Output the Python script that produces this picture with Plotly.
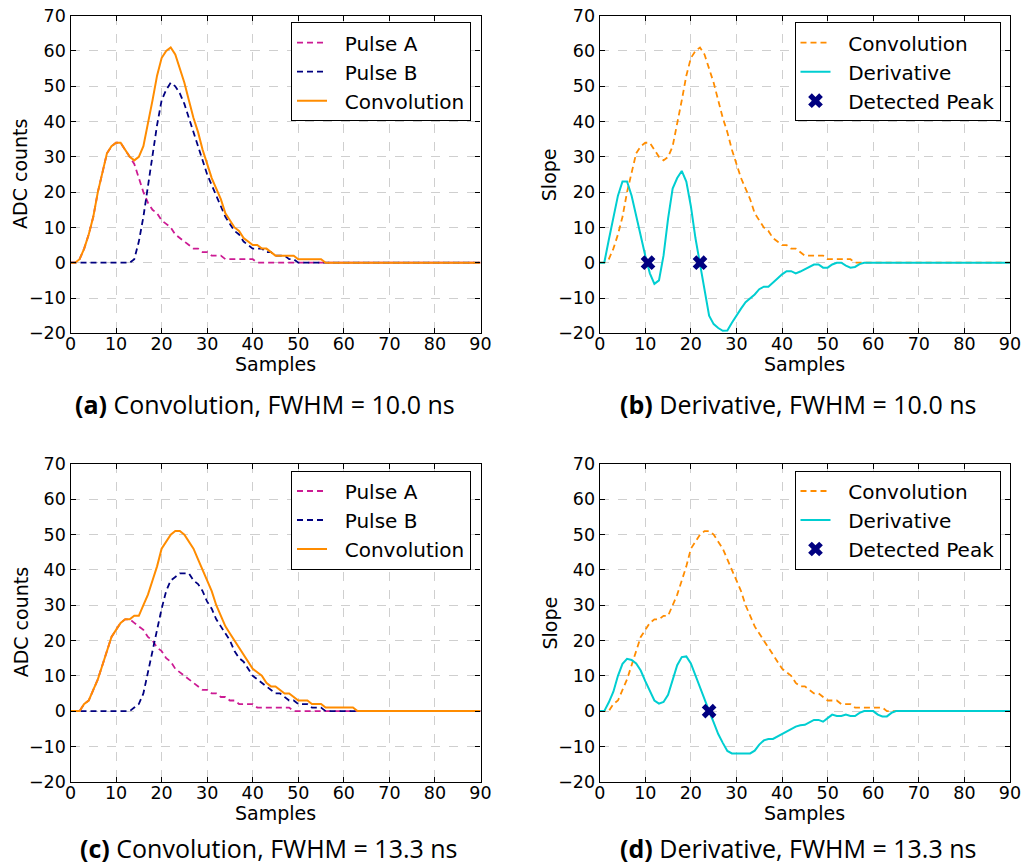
import plotly.graph_objects as go

samples = list(range(91))

# ---- Panel (a)/(b): FWHM = 10.0 ns ----
pulse_a_10 = [0, 0, 1, 4, 8, 13, 20, 26, 31, 33,
              34, 34, 32, 30, 28, 24, 20, 17, 15, 14,
              12, 11, 10, 8, 7, 6, 5, 4, 4, 3,
              3, 2, 2, 2, 1, 1, 1, 1, 1, 1,
              1, 0, 0, 0, 0, 0, 0, 0, 0, 0,
              0, 0, 0, 0, 0, 0, 0, 0, 0, 0,
              0, 0, 0, 0, 0, 0, 0, 0, 0, 0,
              0, 0, 0, 0, 0, 0, 0, 0, 0, 0,
              0, 0, 0, 0, 0, 0, 0, 0, 0, 0, 0]
pulse_b_10 = [0, 0, 0, 0, 0, 0, 0, 0, 0, 0,
              0, 0, 0, 0, 1, 6, 13, 22, 31, 39,
              46, 49, 51, 50, 48, 45, 41, 37, 33, 29,
              25, 22, 19, 16, 13, 11, 9, 8, 6, 5,
              4, 4, 4, 3, 3, 2, 2, 2, 1, 1,
              0, 0, 0, 0, 0, 0, 0, 0, 0, 0,
              0, 0, 0, 0, 0, 0, 0, 0, 0, 0,
              0, 0, 0, 0, 0, 0, 0, 0, 0, 0,
              0, 0, 0, 0, 0, 0, 0, 0, 0, 0, 0]
conv_10 = [0, 0, 1, 4, 8, 13, 20, 26, 31, 33,
           34, 34, 32, 30, 29, 30, 33, 39, 46, 53,
           58, 60, 61, 59, 55, 51, 46, 41, 37, 32,
           28, 24, 21, 18, 14, 12, 10, 9, 7, 6,
           5, 5, 4, 4, 3, 2, 2, 2, 2, 2,
           1, 1, 1, 1, 1, 1, 0, 0, 0, 0,
           0, 0, 0, 0, 0, 0, 0, 0, 0, 0,
           0, 0, 0, 0, 0, 0, 0, 0, 0, 0,
           0, 0, 0, 0, 0, 0, 0, 0, 0, 0, 0]
deriv_10 = [0, 0, 6.5, 13, 19, 23, 23, 19, 13, 7,
            2, -3, -6, -5, 2, 12.5, 21, 24, 26, 23,
            16, 7, 0, -7, -15, -17.4, -18.5, -19.3, -19.2, -17,
            -14.8, -13, -11.2, -10, -9, -7.5, -6.8, -6.8, -5.5, -4.5,
            -3.3, -2.4, -2.4, -3, -2.5, -1.8, -1.2, -0.5, -0.5, -1.4,
            -1.4, -0.5, 0, 0, -0.8, -1.4, -1.2, -0.4, 0, 0,
            0, 0, 0, 0, 0, 0, 0, 0, 0, 0,
            0, 0, 0, 0, 0, 0, 0, 0, 0, 0,
            0, 0, 0, 0, 0, 0, 0, 0, 0, 0, 0]
peaks_x_10 = [10.6, 22.0]
peaks_y_10 = [0, 0]

# ---- Panel (c)/(d): FWHM = 13.3 ns ----
pulse_a_13 = [0, 0, 0, 2, 3, 6, 9, 13, 17, 21,
              23, 25, 26, 26, 25, 24, 23, 21, 20, 18,
              17, 15, 14, 12, 11, 10, 9, 8, 7, 6,
              6, 5, 5, 4, 4, 3, 3, 2, 2, 2,
              2, 1, 1, 1, 1, 1, 1, 1, 1, 0,
              0, 0, 0, 0, 0, 0, 0, 0, 0, 0,
              0, 0, 0, 0, 0, 0, 0, 0, 0, 0,
              0, 0, 0, 0, 0, 0, 0, 0, 0, 0,
              0, 0, 0, 0, 0, 0, 0, 0, 0, 0, 0]
pulse_b_13 = [0, 0, 0, 0, 0, 0, 0, 0, 0, 0,
              0, 0, 0, 0, 1, 2, 5, 11, 17, 23,
              29, 34, 37, 38, 39, 39, 39, 37, 36, 34,
              31, 29, 26, 24, 22, 20, 17, 15, 14, 12,
              10, 9, 8, 7, 6, 5, 5, 4, 3, 3,
              2, 2, 2, 1, 1, 1, 0, 0, 0, 0,
              0, 0, 0, 0, 0, 0, 0, 0, 0, 0,
              0, 0, 0, 0, 0, 0, 0, 0, 0, 0,
              0, 0, 0, 0, 0, 0, 0, 0, 0, 0, 0]
conv_13 = [0, 0, 0, 2, 3, 6, 9, 13, 17, 21,
           23, 25, 26, 26, 27, 27, 30, 33, 37, 41,
           46, 48, 50, 51, 51, 50, 48, 46, 43, 40,
           37, 34, 30, 27, 24, 22, 20, 18, 16, 14,
           12, 11, 10, 8, 7, 7, 6, 5, 5, 4,
           3, 3, 3, 2, 2, 2, 1, 1, 1, 1,
           1, 1, 1, 0, 0, 0, 0, 0, 0, 0,
           0, 0, 0, 0, 0, 0, 0, 0, 0, 0,
           0, 0, 0, 0, 0, 0, 0, 0, 0, 0, 0]
deriv_13 = [0, 0, 2.5, 5.5, 10, 13.4, 14.8, 14.5, 13.5, 11.5,
            8.5, 5.5, 3, 2.1, 2.6, 4.6, 8.5, 13, 15.3, 15.5,
            13.5, 10, 6.8, 3.2, 0, -3.2, -6.5, -9, -11.3, -12,
            -12, -12, -12, -12, -11.2, -9.5, -8.3, -7.9, -7.9, -7.2,
            -6.5, -6, -5.2, -4.4, -4, -3.9, -3.2, -2.5, -2.5, -3,
            -2, -1, -1.4, -1.4, -1, -1.4, -1.4, -0.5, 0, 0,
            0, -1, -1.5, -1.5, -0.5, 0, 0, 0, 0, 0,
            0, 0, 0, 0, 0, 0, 0, 0, 0, 0,
            0, 0, 0, 0, 0, 0, 0, 0, 0, 0, 0]
peaks_x_13 = [24.0]
peaks_y_13 = [0]

x_ticks = [0, 10, 20, 30, 40, 50, 60, 70, 80, 90]
y_ticks = [-20, -10, 0, 10, 20, 30, 40, 50, 60, 70]
x_title = "Samples"
y_titles = {"a": "ADC counts", "b": "Slope", "c": "ADC counts", "d": "Slope"}
captions = ["<b>(a)</b> Convolution, FWHM = 10.0 ns",
            "<b>(b)</b> Derivative, FWHM = 10.0 ns",
            "<b>(c)</b> Convolution, FWHM = 13.3 ns",
            "<b>(d)</b> Derivative, FWHM = 13.3 ns"]

MAGENTA = "#CC1A93"
NAVY = "#000080"
ORANGE = "#FF8C00"
CYAN = "#00CED1"
DASH = "6px,4px"

W, H = 1028, 867
FONT = "DejaVu Sans"
TICK_FS = 17.5
TITLE_FS = 19
LEG_FS = 20
CAP_FS = 25
NB = "\u00a0"

def px_x(p):
    return p / W

def px_y(p):
    return 1 - p / H

fig = go.Figure()

panels = {
    "a": (70.5, 480.5, 15.7, 333.3),
    "b": (599.7, 1010.0, 15.7, 333.3),
    "c": (70.5, 480.5, 464.0, 781.7),
    "d": (599.7, 1010.0, 464.0, 781.7),
}
axis_ids = {"a": ("x", "y"), "b": ("x2", "y2"), "c": ("x3", "y3"), "d": ("x4", "y4")}
legend_ids = {"a": "legend", "b": "legend2", "c": "legend3", "d": "legend4"}
counter = [0]

def label(name):
    return NB * 2 + name

def add_line(panel, y, name, color, dash, width):
    xa, ya = axis_ids[panel]
    counter[0] += 1
    fig.add_trace(go.Scatter(x=samples, y=y, mode="lines", name=label(name),
                             line=dict(color=color, dash=dash, width=width),
                             legendgroup="g%d" % counter[0],
                             xaxis=xa, yaxis=ya, legend=legend_ids[panel]))

def add_peaks(panel, px, py):
    xa, ya = axis_ids[panel]
    counter[0] += 1
    fig.add_trace(go.Scatter(x=px, y=py, mode="markers", name=label("Detected Peak"),
                             marker=dict(symbol="x", size=13, color=NAVY,
                                         line=dict(width=0)),
                             legendgroup="g%d" % counter[0],
                             xaxis=xa, yaxis=ya, legend=legend_ids[panel]))

add_line("a", pulse_a_10, "Pulse A", MAGENTA, DASH, 1.8)
add_line("a", pulse_b_10, "Pulse B", NAVY, DASH, 1.8)
add_line("a", conv_10, "Convolution", ORANGE, "solid", 2)
add_line("b", conv_10, "Convolution", ORANGE, DASH, 1.8)
add_line("b", deriv_10, "Derivative", CYAN, "solid", 2)
add_peaks("b", peaks_x_10, peaks_y_10)

add_line("c", pulse_a_13, "Pulse A", MAGENTA, DASH, 1.8)
add_line("c", pulse_b_13, "Pulse B", NAVY, DASH, 1.8)
add_line("c", conv_13, "Convolution", ORANGE, "solid", 2)
add_line("d", conv_13, "Convolution", ORANGE, DASH, 1.8)
add_line("d", deriv_13, "Derivative", CYAN, "solid", 2)
add_peaks("d", peaks_x_13, peaks_y_13)

layout = dict(
    width=W, height=H,
    margin=dict(l=0, r=0, t=0, b=0, autoexpand=False),
    paper_bgcolor="white", plot_bgcolor="white",
    font=dict(family=FONT, size=TICK_FS, color="black"),
    showlegend=True,
)

annotations = []
for key, (l, r, t, b) in panels.items():
    xa, ya = axis_ids[key]
    xname = "xaxis" if xa == "x" else "xaxis" + xa[1:]
    yname = "yaxis" if ya == "y" else "yaxis" + ya[1:]
    common = dict(showline=True, linecolor="black", linewidth=1.2, mirror="allticks",
                  ticks="inside", ticklen=5, tickwidth=1, tickcolor="black",
                  showgrid=True, gridcolor="#cfcfcf", griddash="dash", gridwidth=1,
                  zeroline=False, automargin=False,
                  tickfont=dict(family=FONT, size=TICK_FS, color="black"))
    layout[xname] = dict(common, domain=[px_x(l), px_x(r)], range=[0, 90],
                         tickvals=x_ticks, anchor=ya, ticklabelstandoff=-5)
    layout[yname] = dict(common, domain=[px_y(b), px_y(t)], range=[-20, 70],
                         tickvals=y_ticks, anchor=xa)
    layout[legend_ids[key]] = dict(
        x=px_x(r - 9.5), y=px_y(t + 6.5), xanchor="right", yanchor="top",
        bgcolor="white", bordercolor="black", borderwidth=1,
        font=dict(family=FONT, size=LEG_FS), itemwidth=30, tracegroupgap=0)
    annotations.append(dict(text=x_title, x=px_x((l + r) / 2), y=px_y(b + 31),
                            xref="paper", yref="paper", showarrow=False,
                            xanchor="center", yanchor="middle",
                            font=dict(family=FONT, size=TITLE_FS, color="black")))
    annotations.append(dict(text=y_titles[key], x=px_x(l - 50), y=px_y((t + b) / 2),
                            xref="paper", yref="paper", showarrow=False, textangle=-90,
                            xanchor="center", yanchor="middle",
                            font=dict(family=FONT, size=TITLE_FS, color="black")))

cap_pos = [(265, 404), (798, 404), (269, 848), (798, 848)]
for text, (cx, cy) in zip(captions, cap_pos):
    annotations.append(dict(text=text, x=px_x(cx), y=px_y(cy), xref="paper", yref="paper",
                            showarrow=False, xanchor="center", yanchor="middle",
                            borderpad=0,
                            font=dict(family="Open Sans", size=CAP_FS, color="black")))

layout["annotations"] = annotations
fig.update_layout(**layout)

fig.write_html("out.html")
